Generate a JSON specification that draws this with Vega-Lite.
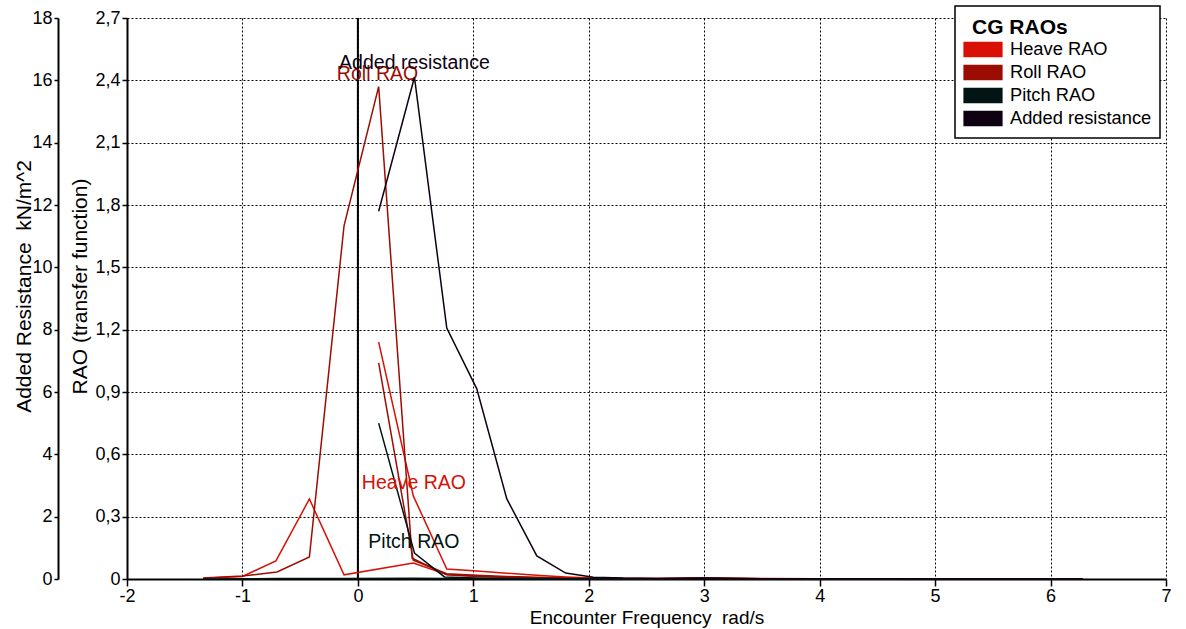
{
  "$schema": "https://vega.github.io/schema/vega-lite/v6.json",
  "width": 1039,
  "height": 561,
  "autosize": {"type": "none"},
  "padding": {"left": 127, "top": 18, "right": 20, "bottom": 50},
  "background": "white",
  "config": {
    "font": "Liberation Sans",
    "view": {"stroke": null},
    "axis": {
      "labelFont": "Liberation Sans",
      "titleFont": "Liberation Sans",
      "labelColor": "black",
      "titleColor": "black",
      "labelFontSize": 18,
      "titleFontSize": 21,
      "titleFontWeight": "normal",
      "domainColor": "black",
      "domainWidth": 2,
      "tickColor": "black",
      "tickWidth": 1.5,
      "labelFlush": false,
      "labelOverlap": false,
      "gridColor": "black",
      "gridDash": [2, 2],
      "gridWidth": 1,
      "gridOpacity": 1
    }
  },
  "datasets": {
    "zero": [{"x": 0}],
    "rao": [
      {"series": "Heave RAO", "seg": "a", "x": -1.34, "y": 0.004},
      {"series": "Heave RAO", "seg": "a", "x": -1.0, "y": 0.012},
      {"series": "Heave RAO", "seg": "a", "x": -0.71, "y": 0.087},
      {"series": "Heave RAO", "seg": "a", "x": -0.42, "y": 0.385},
      {"series": "Heave RAO", "seg": "a", "x": -0.12, "y": 0.02},
      {"series": "Heave RAO", "seg": "a", "x": 0.48, "y": 0.077},
      {"series": "Heave RAO", "seg": "a", "x": 0.77, "y": 0.022},
      {"series": "Heave RAO", "seg": "a", "x": 1.03, "y": 0.014},
      {"series": "Heave RAO", "seg": "a", "x": 1.29, "y": 0.009},
      {"series": "Heave RAO", "seg": "a", "x": 1.55, "y": 0.006},
      {"series": "Heave RAO", "seg": "a", "x": 1.8, "y": 0.004},
      {"series": "Heave RAO", "seg": "a", "x": 2.04, "y": 0.002},
      {"series": "Heave RAO", "seg": "b", "x": 0.18, "y": 1.14},
      {"series": "Heave RAO", "seg": "b", "x": 0.48, "y": 0.4},
      {"series": "Heave RAO", "seg": "b", "x": 0.77, "y": 0.048},
      {"series": "Heave RAO", "seg": "b", "x": 1.03, "y": 0.038},
      {"series": "Heave RAO", "seg": "b", "x": 1.29, "y": 0.028},
      {"series": "Heave RAO", "seg": "b", "x": 1.55, "y": 0.018},
      {"series": "Heave RAO", "seg": "b", "x": 1.8, "y": 0.01},
      {"series": "Heave RAO", "seg": "b", "x": 2.04, "y": 0.005},
      {"series": "Heave RAO", "seg": "b", "x": 2.3, "y": 0.003},
      {"series": "Heave RAO", "seg": "b", "x": 2.6, "y": 0.002},
      {"series": "Heave RAO", "seg": "b", "x": 3.0, "y": 0.006},
      {"series": "Heave RAO", "seg": "b", "x": 3.5, "y": 0.002},
      {"series": "Heave RAO", "seg": "b", "x": 4.0, "y": 0.001},
      {"series": "Heave RAO", "seg": "b", "x": 4.6, "y": 0.001},
      {"series": "Heave RAO", "seg": "b", "x": 5.2, "y": 0.001},
      {"series": "Heave RAO", "seg": "b", "x": 5.8, "y": 0.0005},
      {"series": "Heave RAO", "seg": "b", "x": 6.28, "y": 0.0003},
      {"series": "Roll RAO", "seg": "a", "x": -1.34, "y": 0.005},
      {"series": "Roll RAO", "seg": "a", "x": -1.0, "y": 0.014},
      {"series": "Roll RAO", "seg": "a", "x": -0.7, "y": 0.034},
      {"series": "Roll RAO", "seg": "a", "x": -0.42, "y": 0.106},
      {"series": "Roll RAO", "seg": "a", "x": -0.12, "y": 1.7},
      {"series": "Roll RAO", "seg": "a", "x": 0.18, "y": 2.37},
      {"series": "Roll RAO", "seg": "a", "x": 0.47, "y": 0.1},
      {"series": "Roll RAO", "seg": "a", "x": 0.77, "y": 0.02},
      {"series": "Roll RAO", "seg": "a", "x": 1.03, "y": 0.012},
      {"series": "Roll RAO", "seg": "a", "x": 1.29, "y": 0.008},
      {"series": "Roll RAO", "seg": "a", "x": 1.55, "y": 0.005},
      {"series": "Roll RAO", "seg": "a", "x": 1.8, "y": 0.003},
      {"series": "Roll RAO", "seg": "a", "x": 2.04, "y": 0.002},
      {"series": "Roll RAO", "seg": "b", "x": 0.18, "y": 1.04},
      {"series": "Roll RAO", "seg": "b", "x": 0.48, "y": 0.09},
      {"series": "Roll RAO", "seg": "b", "x": 0.77, "y": 0.025},
      {"series": "Roll RAO", "seg": "b", "x": 1.03, "y": 0.018},
      {"series": "Roll RAO", "seg": "b", "x": 1.29, "y": 0.012},
      {"series": "Roll RAO", "seg": "b", "x": 1.55, "y": 0.008},
      {"series": "Roll RAO", "seg": "b", "x": 1.8, "y": 0.005},
      {"series": "Roll RAO", "seg": "b", "x": 2.04, "y": 0.003},
      {"series": "Roll RAO", "seg": "b", "x": 2.3, "y": 0.002},
      {"series": "Roll RAO", "seg": "b", "x": 2.6, "y": 0.002},
      {"series": "Roll RAO", "seg": "b", "x": 3.0, "y": 0.004},
      {"series": "Roll RAO", "seg": "b", "x": 3.5, "y": 0.001},
      {"series": "Roll RAO", "seg": "b", "x": 4.0, "y": 0.001},
      {"series": "Roll RAO", "seg": "b", "x": 4.6, "y": 0.001},
      {"series": "Roll RAO", "seg": "b", "x": 5.2, "y": 0.001},
      {"series": "Roll RAO", "seg": "b", "x": 5.8, "y": 0.0005},
      {"series": "Roll RAO", "seg": "b", "x": 6.28, "y": 0.0003},
      {"series": "Pitch RAO", "seg": "a", "x": -1.34, "y": 0.0005},
      {"series": "Pitch RAO", "seg": "a", "x": -1.0, "y": 0.001},
      {"series": "Pitch RAO", "seg": "a", "x": -0.7, "y": 0.002},
      {"series": "Pitch RAO", "seg": "a", "x": -0.42, "y": 0.003},
      {"series": "Pitch RAO", "seg": "a", "x": -0.12, "y": 0.002},
      {"series": "Pitch RAO", "seg": "a", "x": 0.48, "y": 0.004},
      {"series": "Pitch RAO", "seg": "a", "x": 0.77, "y": 0.002},
      {"series": "Pitch RAO", "seg": "a", "x": 1.03, "y": 0.001},
      {"series": "Pitch RAO", "seg": "a", "x": 1.29, "y": 0.001},
      {"series": "Pitch RAO", "seg": "a", "x": 1.55, "y": 0.0005},
      {"series": "Pitch RAO", "seg": "a", "x": 1.8, "y": 0.0005},
      {"series": "Pitch RAO", "seg": "a", "x": 2.04, "y": 0.0002},
      {"series": "Pitch RAO", "seg": "b", "x": 0.18, "y": 0.75},
      {"series": "Pitch RAO", "seg": "b", "x": 0.49, "y": 0.125},
      {"series": "Pitch RAO", "seg": "b", "x": 0.75, "y": 0.01},
      {"series": "Pitch RAO", "seg": "b", "x": 1.03, "y": 0.005},
      {"series": "Pitch RAO", "seg": "b", "x": 1.29, "y": 0.003},
      {"series": "Pitch RAO", "seg": "b", "x": 1.55, "y": 0.002},
      {"series": "Pitch RAO", "seg": "b", "x": 1.8, "y": 0.001},
      {"series": "Pitch RAO", "seg": "b", "x": 2.04, "y": 0.001},
      {"series": "Pitch RAO", "seg": "b", "x": 2.3, "y": 0.0005},
      {"series": "Pitch RAO", "seg": "b", "x": 2.6, "y": 0.0005},
      {"series": "Pitch RAO", "seg": "b", "x": 3.0, "y": 0.001},
      {"series": "Pitch RAO", "seg": "b", "x": 3.5, "y": 0.0005},
      {"series": "Pitch RAO", "seg": "b", "x": 4.0, "y": 0.0003},
      {"series": "Pitch RAO", "seg": "b", "x": 4.6, "y": 0.0003},
      {"series": "Pitch RAO", "seg": "b", "x": 5.2, "y": 0.0002},
      {"series": "Pitch RAO", "seg": "b", "x": 5.8, "y": 0.0002},
      {"series": "Pitch RAO", "seg": "b", "x": 6.28, "y": 0.0001}
    ],
    "raoLabels": [
      {"series": "Roll RAO", "label": "Roll RAO", "x": 0.17, "y": 2.43},
      {"series": "Heave RAO", "label": "Heave RAO", "x": 0.485, "y": 0.46},
      {"series": "Pitch RAO", "label": "Pitch RAO", "x": 0.485, "y": 0.18}
    ],
    "resistance": [
      {"series": "Added resistance", "x": 0.18, "y": 11.8},
      {"series": "Added resistance", "x": 0.49, "y": 16.1},
      {"series": "Added resistance", "x": 0.77, "y": 8.05},
      {"series": "Added resistance", "x": 1.03, "y": 6.1},
      {"series": "Added resistance", "x": 1.29, "y": 2.57},
      {"series": "Added resistance", "x": 1.55, "y": 0.74},
      {"series": "Added resistance", "x": 1.8, "y": 0.19},
      {"series": "Added resistance", "x": 2.04, "y": 0.06},
      {"series": "Added resistance", "x": 2.3, "y": 0.03},
      {"series": "Added resistance", "x": 2.6, "y": 0.02},
      {"series": "Added resistance", "x": 3.0, "y": 0.03},
      {"series": "Added resistance", "x": 3.5, "y": 0.01},
      {"series": "Added resistance", "x": 4.0, "y": 0.01},
      {"series": "Added resistance", "x": 4.6, "y": 0.005},
      {"series": "Added resistance", "x": 5.2, "y": 0.003},
      {"series": "Added resistance", "x": 5.8, "y": 0.002},
      {"series": "Added resistance", "x": 6.28, "y": 0.001}
    ],
    "resistanceLabel": [
      {"series": "Added resistance", "label": "Added resistance", "x": 0.49, "y": 16.55}
    ]
  },
  "layer": [
    {
      "layer": [
        {
          "data": {"name": "zero"},
          "mark": {"type": "rule", "color": "black", "strokeWidth": 2},
          "encoding": {
            "x": {
              "field": "x", "type": "quantitative",
              "scale": {"domain": [-2, 7], "nice": false, "zero": false},
              "axis": {
                "title": "Encounter Frequency\u00a0 rad/s",
                "titleFontSize": 19,
                "values": [-2, -1, 0, 1, 2, 3, 4, 5, 6, 7],
                "labelExpr": "datum.value < 0 ? '-' + abs(datum.value) : '' + datum.value",
                "grid": true,
                "tickSize": 7,
                "labelPadding": 1,
                "titlePadding": 3
              }
            }
          }
        },
        {
          "data": {"name": "rao"},
          "mark": {"type": "line", "strokeWidth": 1.5},
          "encoding": {
            "x": {
              "field": "x", "type": "quantitative",
              "scale": {"domain": [-2, 7], "nice": false, "zero": false},
              "axis": {
                "title": "Encounter Frequency\u00a0 rad/s",
                "titleFontSize": 19,
                "values": [-2, -1, 0, 1, 2, 3, 4, 5, 6, 7],
                "labelExpr": "datum.value < 0 ? '-' + abs(datum.value) : '' + datum.value",
                "grid": true,
                "tickSize": 7,
                "labelPadding": 1,
                "titlePadding": 3
              }
            },
            "y": {
              "field": "y", "type": "quantitative",
              "scale": {"domain": [0, 2.7], "nice": false},
              "axis": {
                "title": "RAO (transfer function)",
                "orient": "left",
                "values": [0, 0.3, 0.6, 0.9, 1.2, 1.5, 1.8, 2.1, 2.4, 2.7],
                "labelExpr": "datum.value == 0 ? '0' : replace(format(datum.value, '.1f'), '.', ',')",
                "grid": true,
                "tickSize": 5,
                "labelPadding": 2,
                "titlePadding": 4,
                "titleY": 268
              }
            },
            "color": {
              "field": "series", "type": "nominal",
              "scale": {
                "domain": ["Heave RAO", "Roll RAO", "Pitch RAO", "Added resistance"],
                "range": ["#d81005", "#9c0c02", "#021414", "#0e0212"]
              },
              "legend": {
                "title": "CG RAOs",
                "orient": "none",
                "legendX": 828,
                "legendY": -12,
                "titleFontSize": 21,
                "titleFontWeight": "bold",
                "titleColor": "black",
                "titlePadding": 3,
                "labelFontSize": 18.3,
                "labelColor": "black",
                "labelOffset": 7,
                "padding": 8,
                "fillColor": "white",
                "strokeColor": "black",
                "symbolType": "M-1,-0.37H1V0.37H-1Z",
                "symbolSize": 1444,
                "clipHeight": 23,
                "rowPadding": 0,
                "encode": {
                  "title": {"update": {"dx": {"value": 9}, "dy": {"value": 3}}},
                  "symbols": {
                    "update": {
                      "fill": {"scale": "color", "field": "value"},
                      "stroke": {"value": "black"},
                      "strokeWidth": {"value": 1.2},
                      "opacity": {"value": 1}
                    }
                  },
                  "legend": {"update": {"strokeWidth": {"value": 1.5}}}
                }
              }
            },
            "detail": {"field": "seg", "type": "nominal"}
          }
        },
        {
          "data": {"name": "raoLabels"},
          "mark": {"type": "text", "fontSize": 19.5, "align": "center", "baseline": "middle"},
          "encoding": {
            "x": {"field": "x", "type": "quantitative"},
            "y": {"field": "y", "type": "quantitative"},
            "text": {"field": "label"},
            "color": {"field": "series", "type": "nominal"}
          }
        }
      ]
    },
    {
      "layer": [
        {
          "data": {"name": "resistance"},
          "mark": {"type": "line", "strokeWidth": 1.5},
          "encoding": {
            "x": {"field": "x", "type": "quantitative"},
            "y": {
              "field": "y", "type": "quantitative",
              "scale": {"domain": [0, 18], "nice": false},
              "axis": {
                "title": "Added Resistance\u00a0 kN/m^2",
                "orient": "left",
                "offset": 69,
                "values": [0, 2, 4, 6, 8, 10, 12, 14, 16, 18],
                "grid": false,
                "tickSize": 4,
                "labelPadding": 2,
                "titlePadding": -3,
                "titleY": 268
              }
            },
            "color": {"field": "series", "type": "nominal"}
          }
        },
        {
          "data": {"name": "resistanceLabel"},
          "mark": {"type": "text", "fontSize": 19.5, "align": "center", "baseline": "middle"},
          "encoding": {
            "x": {"field": "x", "type": "quantitative"},
            "y": {"field": "y", "type": "quantitative"},
            "text": {"field": "label"},
            "color": {"field": "series", "type": "nominal"}
          }
        }
      ]
    }
  ],
  "resolve": {"scale": {"y": "independent"}, "axis": {"y": "independent"}}
}
